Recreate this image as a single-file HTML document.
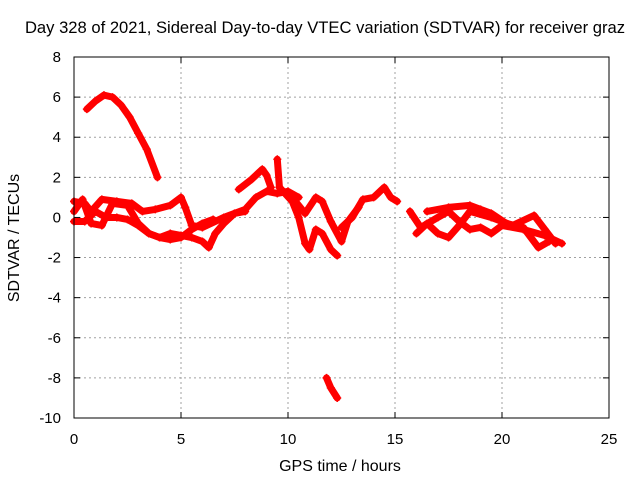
<!DOCTYPE html>
<html><head><meta charset="utf-8"><style>
body{margin:0;background:#fff;}
svg{display:block;font-family:"Liberation Sans",Arial,sans-serif;}
</style></head><body>
<svg id="chart" width="640" height="480" viewBox="0 0 640 480">
<text x="325" y="33" font-size="16.6" text-anchor="middle">Day 328 of 2021, Sidereal Day-to-day VTEC variation (SDTVAR) for receiver graz</text>
<text x="340" y="471" font-size="16" text-anchor="middle">GPS time / hours</text>
<text transform="translate(19,238) rotate(-90)" font-size="16" text-anchor="middle">SDTVAR / TECUs</text>
<g id="grid"></g>
<g id="ticks"></g>
<g id="series"></g>
<rect x="74" y="57" width="535" height="361" fill="none" stroke="#000" stroke-width="1"/>
</svg>
<script>
const xTicks=[0,5,10,15,20,25];
const yTicks=[8,6,4,2,0,-2,-4,-6,-8,-10];
const s1=[[0.6,5.4],[1.0,5.8],[1.4,6.1],[1.8,6.0],[2.2,5.6],[2.6,5.0],[3.0,4.2],[3.4,3.4],[3.9,2.0]];
const s2=[[0,0.8],[0.5,0.7],[0.8,0.3],[1.3,0.9],[2,0.8],[2.7,0.7],[3.2,0.3],[3.8,0.4],[4.5,0.6],[5,1.0],[5.2,0.5],[5.5,-0.4],[6,-0.5],[7,0],[8,0.4],[8.5,1.0],[9,1.3],[9.5,1.2],[10,1.3],[10.5,1.0]];
const s3=[[0,-0.2],[0.5,-0.2],[1,0.3],[1.5,0.0],[2,0.0],[2.5,-0.1],[3,-0.4],[3.5,-0.8],[4,-1.0],[4.5,-0.8],[5,-0.9],[5.5,-1.0],[6,-1.2],[6.3,-1.5],[6.6,-0.8],[7,-0.3],[7.5,0.2],[8,0.3]];
const s4=[[0,0.3],[0.4,0.9],[0.8,-0.3],[1.3,-0.4],[1.8,0.7],[2.5,0.6],[3,-0.3],[3.5,-0.8],[4,-1.0],[4.5,-1.1],[5,-1.0],[5.5,-0.6],[6,-0.3],[6.5,-0.1]];
const s5=[[7.7,1.4],[8.3,1.9],[8.8,2.4],[9.0,2.1],[9.2,1.5]];
const s6=[[9.5,2.9],[9.6,1.5]];
const s7=[[9.6,1.5],[10.2,0.8],[10.5,0],[10.8,-1.3],[11.0,-1.6],[11.3,-0.6],[11.6,-0.8],[12,-1.6],[12.3,-1.9]];
const s8=[[10.2,1.0],[10.8,0.2],[11.3,1.0],[11.6,0.8],[12.0,-0.2],[12.5,-1.2],[12.8,-0.2],[13.3,0.5]];
const s9=[[12.5,-0.5],[13,0],[13.5,0.9],[14,1.0],[14.5,1.5],[14.8,1.0],[15.1,0.8]];
const s10=[[11.8,-8.0],[12.0,-8.5],[12.3,-9.0]];
const s11=[[15.7,0.3],[16.2,-0.5],[17,0.0],[17.5,0.3],[18,-0.2],[18.5,-0.6],[19,-0.5],[19.5,-0.8],[20,-0.4],[21,-0.6],[22,-0.9],[22.8,-1.3]];
const s12=[[16,-0.8],[16.5,-0.3],[17,-0.8],[17.5,-1.0],[18,-0.4],[18.5,0.3],[19.5,0.0],[20.5,-0.4],[21.5,0.1],[22,-0.6],[22.5,-1.3]];
const s13=[[16.5,0.3],[17.5,0.5],[18.5,0.6],[19,0.4],[19.5,0.2],[20.2,-0.3],[21,-0.5],[21.7,-1.5],[22.2,-1.2]];
const allSeries=[s1,s2,s3,s4,s5,s6,s7,s8,s9,s10,s11,s12,s13];

const NS="http://www.w3.org/2000/svg";
const X0=74,X1=609,Y0=418,Y1=57;
function xs(t){return X0+(t-0)/(25-0)*(X1-X0);}
function ys(v){return Y0-(v+10)/(18)*(Y0-Y1);}
const grid=document.getElementById('grid'),ticks=document.getElementById('ticks'),ser=document.getElementById('series');
function mk(tag,attrs,parent){const e=document.createElementNS(NS,tag);for(const k in attrs)e.setAttribute(k,attrs[k]);parent.appendChild(e);return e;}
xTicks.forEach(t=>{
  const x=xs(t);
  if(t>0&&t<25){const g=mk('line',{x1:x,x2:x,y1:Y1,y2:Y0,stroke:'#a0a0a0','stroke-dasharray':'2,3'},grid);
  
  }
  mk('line',{x1:x,x2:x,y1:Y0,y2:Y0-6,stroke:'#000'},ticks);
  mk('line',{x1:x,x2:x,y1:Y1,y2:Y1+6,stroke:'#000'},ticks);
  const l=mk('text',{x:x,y:Y0+26,'font-size':15,'text-anchor':'middle'},ticks);l.textContent=t;
  
  
});
yTicks.forEach(v=>{
  const y=ys(v);
  if(v>-10&&v<8){const g=mk('line',{x1:X0,x2:X1,y1:y,y2:y,stroke:'#a0a0a0','stroke-dasharray':'2,3'},grid);
  
  }
  mk('line',{x1:X0,x2:X0+6,y1:y,y2:y,stroke:'#000'},ticks);
  mk('line',{x1:X1,x2:X1-6,y1:y,y2:y,stroke:'#000'},ticks);
  const l=mk('text',{x:X0-13,y:y+5,'font-size':15,'text-anchor':'end'},ticks);l.textContent=v;
  
  
});
allSeries.forEach(s=>{
  const p=mk('polyline',{points:s.map(d=>xs(d[0])+','+ys(d[1])).join(' '),fill:'none',stroke:'#ff0000','stroke-width':7,'stroke-linejoin':'round','stroke-linecap':'round'},ser);
  
  
  s.forEach(d=>{
    const m=mk('path',{d:`M${xs(d[0])-4},${ys(d[1])}h8M${xs(d[0])},${ys(d[1])-4}v8`,stroke:'#ff0000','stroke-width':1.5},ser);
    
    
  });
});
</script>
</body></html>
